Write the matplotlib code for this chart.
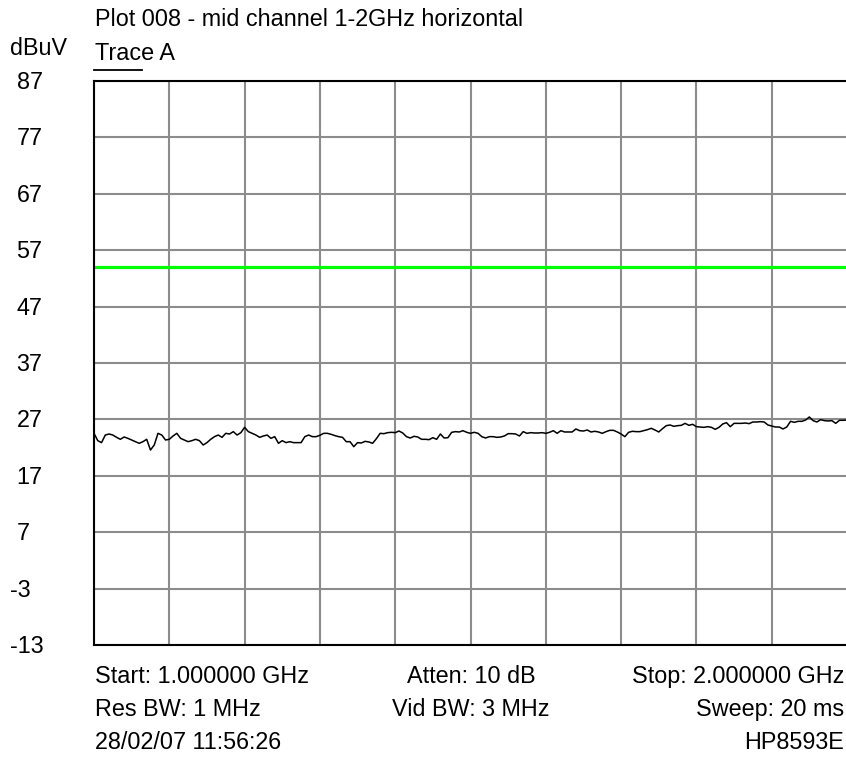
import numpy as np
import matplotlib
matplotlib.use('Agg')
import matplotlib.pyplot as plt
from matplotlib.lines import Line2D

plt.rcParams['font.family'] = ['Liberation Sans', 'DejaVu Sans']

# sweep settings
f_start = 1.0    # GHz
f_stop = 2.0     # GHz
limit_dbuv = 54.0

# y axis reference levels (dBuV)
y_ticks = [87, 77, 67, 57, 47, 37, 27, 17, 7, -3, -13]
x_ticks = [1.0, 1.1, 1.2, 1.3, 1.4, 1.5, 1.6, 1.7, 1.8, 1.9, 2.0]

# trace A, measured level in dBuV across the sweep
trace_a = [
    24.53, 23.23, 22.88, 24.23, 24.41, 24.23, 23.82, 23.47, 23.88, 23.64,
    23.35, 23.05, 22.76, 23.05, 23.47, 21.57, 22.46, 24.53, 24.23, 23.35,
    23.47, 24.06, 24.53, 23.64, 23.35, 23.05, 23.23, 23.47, 23.23, 22.46,
    22.88, 23.47, 23.94, 24.23, 23.82, 24.53, 24.41, 24.83, 24.23, 24.65,
    25.59, 24.83, 24.53, 24.23, 23.82, 24.06, 24.23, 23.64, 23.94, 22.76,
    23.23, 22.88, 23.05, 22.88, 22.88, 22.88, 23.94, 24.23, 23.94, 23.94,
    24.18, 24.53, 24.53, 24.35, 24.12, 23.94, 23.82, 23.05, 23.05,
    22.17, 22.88, 22.82, 23.11, 23.00, 22.76, 23.58, 24.53, 24.47, 24.65,
    24.71, 24.65, 24.94, 24.59, 23.94, 23.70, 24.00, 23.88, 23.47, 23.47,
    23.41, 23.76, 23.47, 24.41, 23.70, 23.76, 24.71, 24.83, 24.77, 25.00,
    24.71, 24.53, 24.71, 24.53, 23.94, 23.70, 23.94, 23.94, 23.82, 23.88,
    24.06, 24.47, 24.47, 24.41, 24.06, 24.83, 24.53, 24.65, 24.59, 24.59,
    24.65, 24.53, 24.71, 25.00, 24.53, 25.00, 24.77, 24.77, 24.77, 25.30,
    25.00, 24.94, 25.12, 24.77, 24.89, 24.77,
    24.53, 24.83, 25.06, 25.06, 24.77, 24.41, 23.94, 24.71, 24.89, 24.83,
    24.83, 25.00, 25.18, 25.42, 25.12, 24.77, 25.36, 25.89, 26.01, 25.77,
    25.89, 25.95, 26.30, 25.95, 26.13, 25.71, 25.65, 25.59, 25.71, 25.59,
    25.24, 25.59, 26.19, 26.42, 25.71, 26.30, 26.30, 26.30, 26.36, 26.25,
    26.54, 26.54, 26.60, 26.54, 26.01, 25.83, 25.65, 25.65, 25.30, 25.65,
    26.66, 26.48, 26.66, 26.66, 26.89, 27.43, 26.78, 26.54, 26.95, 26.78,
    26.72, 26.78, 26.30, 26.84, 26.84, 26.89,
]
freqs = np.linspace(f_start, f_stop, len(trace_a))

W, H = 846, 757
fs = 16.8

fig = plt.figure(figsize=(W / 100, H / 100), dpi=100)
ax = fig.add_axes([94 / W, (H - 645) / H, 753 / W, 564 / H])

ax.set_xlim(f_start, f_stop)
ax.set_ylim(y_ticks[-1], y_ticks[0])
ax.set_xticks(x_ticks)
ax.set_yticks(y_ticks)
ax.tick_params(length=0, labelleft=False, labelbottom=False)
ax.grid(True, color='#8c8c8c', lw=1.5)
ax.set_axisbelow(True)
for side in ('left', 'bottom', 'top'):
    ax.spines[side].set_color('black')
    ax.spines[side].set_linewidth(1.5)
ax.spines['right'].set_visible(False)

ax.axhline(limit_dbuv, color='#00ff00', lw=2.3)
ax.plot(freqs, trace_a, color='black', lw=1.1)

# y labels sit left of the frame, digits lined up
for v in y_ticks:
    x = 10 if v < 0 else 16.5
    ax.annotate(str(v), xy=(x, v), xycoords=('figure pixels', 'data'),
                xytext=(0, -8), textcoords='offset pixels',
                ha='left', va='baseline', fontsize=fs, annotation_clip=False)


def ftext(x, y_top, s, ha='left'):
    fig.text(x / W, (H - y_top) / H, s, ha=ha, va='baseline', fontsize=fs)


ftext(95, 26, 'Plot 008 - mid channel 1-2GHz horizontal')
ftext(10, 55, 'dBuV')
ftext(95, 59.5, 'Trace A')
fig.add_artist(Line2D([94 / W, 142 / W], [(H - 69.7) / H] * 2,
                      color='black', lw=1.3, transform=fig.transFigure))

ftext(95, 683, 'Start: 1.000000 GHz')
ftext(95, 716, 'Res BW: 1 MHz')
ftext(95, 749, '28/02/07 11:56:26')
ftext(471, 683, 'Atten: 10 dB', ha='center')
ftext(471, 716, 'Vid BW: 3 MHz', ha='center')
ftext(844, 683, 'Stop: 2.000000 GHz', ha='right')
ftext(844, 716, 'Sweep: 20 ms', ha='right')
ftext(844, 749, 'HP8593E', ha='right')

fig.savefig('out.png', dpi=100)
